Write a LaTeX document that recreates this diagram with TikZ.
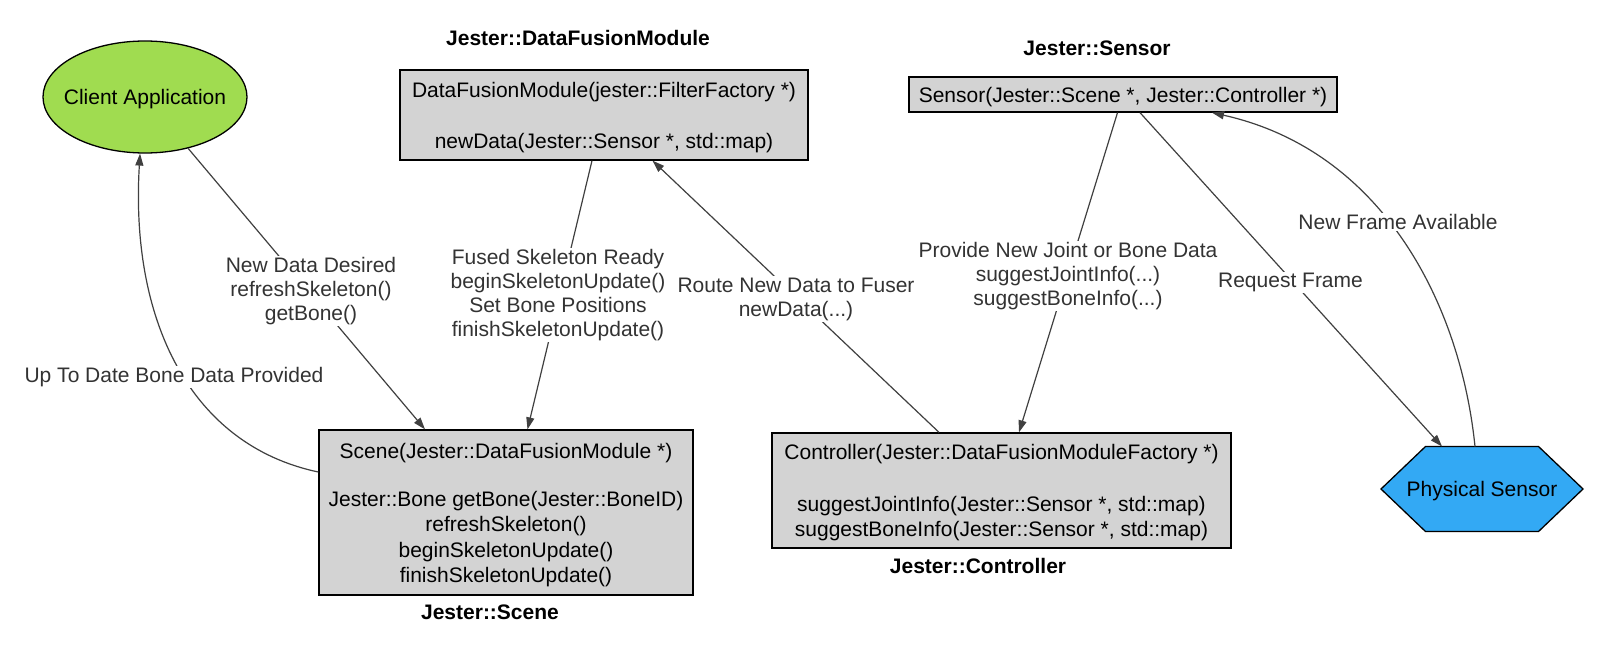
\documentclass[tikz,border=0pt]{standalone}
\usepackage{fontspec}
\setmainfont{Liberation Sans}
\usetikzlibrary{arrows.meta,shapes.geometric}
\definecolor{boxgrey}{HTML}{D3D3D3}
\definecolor{clientgreen}{HTML}{A0DC50}
\definecolor{physblue}{HTML}{33A9F4}
\definecolor{edgegrey}{HTML}{404040}
\definecolor{labelgrey}{HTML}{333333}
\newcommand{\dropstrut}{\rule{0pt}{20pt}}
\begin{document}
\begin{tikzpicture}[x=1pt,y=-1pt,
  every node/.style={font=\fontsize{21}{25.5}\selectfont, inner sep=0pt},
  classbox/.style={draw=black, line width=1.3pt, fill=boxgrey, rectangle, align=center},
  titletext/.style={font=\fontsize{21}{25}\selectfont\bfseries},
  conn/.style={draw=edgegrey, line width=1.2pt, -{Triangle[length=12pt,width=8pt]}},
  lbl/.style={fill=white, text=labelgrey, align=center, inner sep=1.5pt, font=\fontsize{21}{24}\selectfont}]
\fill[white] (0,0) rectangle (1606,650);
\useasboundingbox (0,0) rectangle (1606,650);

% nodes
\node[draw=black, line width=1.3pt, fill=clientgreen, ellipse, inner xsep=-25pt, minimum width=204pt, minimum height=112pt, text depth=0pt] (client) at (145,97) {Client Application};

\node[classbox, minimum width=408pt, minimum height=90pt] (dfm) at (604,115)
  {\dropstrut DataFusionModule(jester::FilterFactory *)\\[26pt]newData(Jester::Sensor *, std::map)};
\node[titletext] (tdfm) at (578,38) {Jester::DataFusionModule};

\node[classbox, minimum width=428pt, minimum height=35pt] (sensor) at (1123,94.5)
  {\dropstrut Sensor(Jester::Scene *, Jester::Controller *)};
\node[titletext] (tsensor) at (1097,48) {Jester::Sensor};

\node[classbox, minimum width=374pt, minimum height=165pt] (scene) at (506,512.5)
  {\dropstrut Scene(Jester::DataFusionModule *)\\[22.5pt]Jester::Bone getBone(Jester::BoneID)\\refreshSkeleton()\\beginSkeletonUpdate()\\finishSkeletonUpdate()};
\node[titletext] (tscene) at (490,612) {Jester::Scene};

\node[classbox, minimum width=459pt, minimum height=115pt] (ctrl) at (1001.5,490.5)
  {\dropstrut Controller(Jester::DataFusionModuleFactory *)\\[26pt]suggestJointInfo(Jester::Sensor *, std::map)\\suggestBoneInfo(Jester::Sensor *, std::map)};
\node[titletext] (tctrl) at (978,566) {Jester::Controller};

\draw[black, line width=1.3pt, fill=physblue]
  (1425.5,446.5) -- (1538.5,446.5) -- (1583,489) -- (1538.5,531.5) -- (1425.5,531.5) -- (1381,489) -- cycle;
\node[text depth=0pt] (phys) at (1482,489) {Physical Sensor};

% connectors
\draw[conn] (client.-50.5) -- ([xshift=-81pt]scene.north);
\draw[conn] ([yshift=40.5pt]scene.west) .. controls (190,445) and (130,320) .. (client.-95.6);
\draw[conn] ([xshift=-12pt]dfm.south) -- ([xshift=21.5pt]scene.north);
\draw[conn] ([xshift=-62.5pt]ctrl.north) -- ([xshift=48.5pt]dfm.south);
\draw[conn] ([xshift=-5.5pt]sensor.south) -- ([xshift=17.5pt]ctrl.north);
\draw[conn] ([xshift=17pt]sensor.south) -- ([shift={(-40,-42.5)}]phys.center);
\draw[conn] ([shift={(-7,-42.5)}]phys.center) .. controls (1460,300) and (1380,150) .. ([xshift=89pt]sensor.south);

% labels
\node[lbl] (l1) at (311,291) {New Data Desired\\refreshSkeleton()\\getBone()};
\node[lbl] (l2) at (174,377) {Up To Date Bone Data Provided};
\node[lbl] (l3) at (558,295) {Fused Skeleton Ready\\beginSkeletonUpdate()\\Set Bone Positions\\finishSkeletonUpdate()};
\node[lbl] (l4) at (796,299) {Route New Data to Fuser\\newData(...)};
\node[lbl] (l5) at (1068,276) {Provide New Joint or Bone Data\\suggestJointInfo(...)\\suggestBoneInfo(...)};
\node[lbl] (l6) at (1290.5,282.5) {Request Frame};
\node[lbl] (l7) at (1398,222) {New Frame Available};
\end{tikzpicture}
\end{document}
